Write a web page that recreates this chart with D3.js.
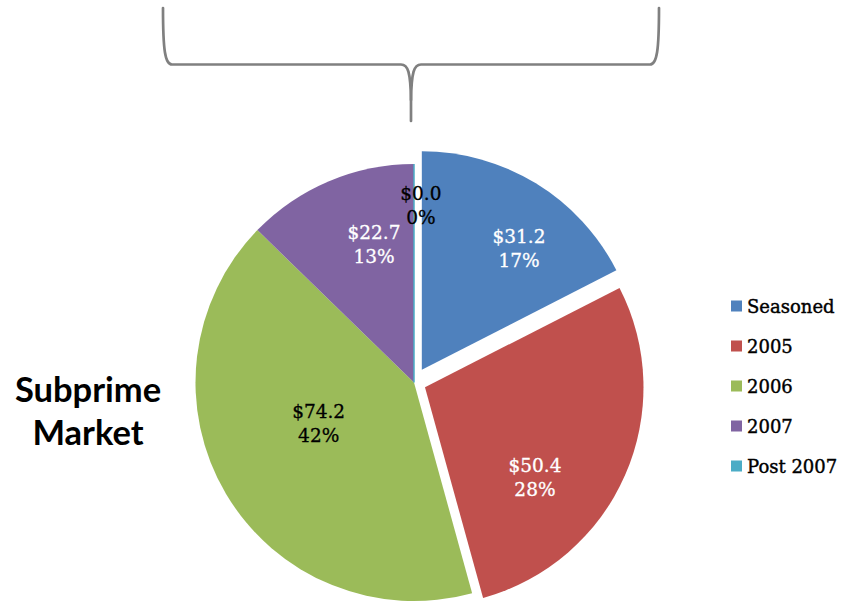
<!DOCTYPE html>
<html>
<head>
<meta charset="utf-8">
<script src="https://cdn.jsdelivr.net/npm/d3@7"></script>
<style>
  html, body { margin: 0; padding: 0; background: #ffffff; }
  svg { display: block; }
</style>
</head>
<body>
<svg id="chart" width="850" height="602"></svg>
<script>
// Subprime market volume by vintage ($ billions)
const categories = ["Seasoned", "2005", "2006", "2007", "Post 2007"];
const values = [31.2, 50.4, 74.2, 22.7, 0.0];
const colors = ["#4F81BD", "#C0504D", "#9BBB59", "#8064A2", "#4BACC6"];
const titleLines = ["Subprime", "Market"];

const W = 850, H = 602;
const cx = 414, cy = 382.5, R = 218.5;

// pulled-out slices (px) and label placement (fraction of radius, angular shift in degrees)
const explode = { "Seasoned": 15, "2005": 12 };
const labelPlace = {
  "Seasoned":  { rf: 0.713, da: 7.1 },
  "2005":      { rf: 0.647, da: 15.2 },
  "2006":      { rf: 0.474, da: 7.6 },
  "2007":      { rf: 0.664, da: 6.9 },
  "Post 2007": { rf: 0.817, da: 2.2 }
};
const darkText = { "2006": true, "Post 2007": true };

const svg = d3.select("#chart");

// curly brace above the pie
const brace = svg.append("g")
  .attr("fill", "none")
  .attr("stroke", "#808080")
  .attr("stroke-width", 2.7)
  .attr("stroke-linecap", "round")
  .attr("stroke-linejoin", "round");
brace.append("path")
  .attr("d", "M163,8 C163,50 165,64.5 172,64.5 L401,64.5 C408,64.5 410.5,72 411,100 L411,121");
brace.append("path")
  .attr("d", "M659,8 C659,50 657,64.5 650,64.5 L421,64.5 C414,64.5 411.5,72 411,100");

// pie
const total = d3.sum(values);
const data = categories.map((c, i) => ({ cat: c, value: values[i], color: colors[i] }));
const pie = d3.pie().value(d => d.value).sort(null);
const arcs = pie(data);
const arc = d3.arc().innerRadius(0).outerRadius(R);

const gPie = svg.append("g").attr("transform", `translate(${cx},${cy})`);

function offsetOf(a) {
  const e = explode[a.data.cat] || 0;
  const mid = (a.startAngle + a.endAngle) / 2;
  return [e * Math.sin(mid), -e * Math.cos(mid)];
}

gPie.selectAll("path.slice")
  .data(arcs)
  .join("path")
  .attr("class", "slice")
  .attr("d", arc)
  .attr("transform", a => { const o = offsetOf(a); return `translate(${o[0]},${o[1]})`; })
  .attr("fill", a => a.data.color)
  .attr("stroke", a => a.data.value === 0 ? a.data.color : "none")
  .attr("stroke-width", a => a.data.value === 0 ? 1.5 : 0);

// data labels: value and share
const fmtVal = d3.format(".1f");
const fmtPct = d3.format(".0%");
const labels = gPie.selectAll("text.lbl")
  .data(arcs)
  .join("text")
  .attr("class", "lbl")
  .attr("text-anchor", "middle")
  .attr("font-family", "'DejaVu Serif', serif")
  .attr("font-size", 18.5)
  .attr("fill", a => darkText[a.data.cat] ? "#000000" : "#ffffff")
  .attr("stroke", a => darkText[a.data.cat] ? "#000000" : "#ffffff")
  .attr("stroke-width", 0.3)
  .attr("transform", a => {
    const o = offsetOf(a);
    const p = labelPlace[a.data.cat];
    const ang = (a.startAngle + a.endAngle) / 2 + p.da * Math.PI / 180;
    const r = p.rf * R;
    return `translate(${o[0] + r * Math.sin(ang)},${o[1] - r * Math.cos(ang)})`;
  });
labels.append("tspan").attr("x", 0).attr("y", -4.5)
  .text(a => "$" + fmtVal(a.data.value));
labels.append("tspan").attr("x", 0).attr("y", 19.5)
  .text(a => fmtPct(a.data.value / total));

// legend
const legend = svg.append("g").attr("transform", "translate(731,300.5)");
const items = legend.selectAll("g")
  .data(data)
  .join("g")
  .attr("transform", (d, i) => `translate(0,${i * 40})`);
items.append("rect")
  .attr("width", 11).attr("height", 11)
  .attr("fill", d => d.color);
items.append("text")
  .attr("x", 16).attr("y", 12.5)
  .attr("font-family", "'DejaVu Serif', serif")
  .attr("font-size", 18)
  .attr("fill", "#000")
  .attr("stroke", "#000").attr("stroke-width", 0.4)
  .text(d => d.cat);

// title
const title = svg.append("text")
  .attr("text-anchor", "middle")
  .attr("font-family", "Lato, 'Open Sans', sans-serif")
  .attr("font-weight", 700)
  .attr("font-size", 34.5)
  .attr("fill", "#000");
titleLines.forEach((t, i) => {
  title.append("tspan").attr("x", 88).attr("y", 402 + i * 42.5).text(t);
});
</script>
</body>
</html>
